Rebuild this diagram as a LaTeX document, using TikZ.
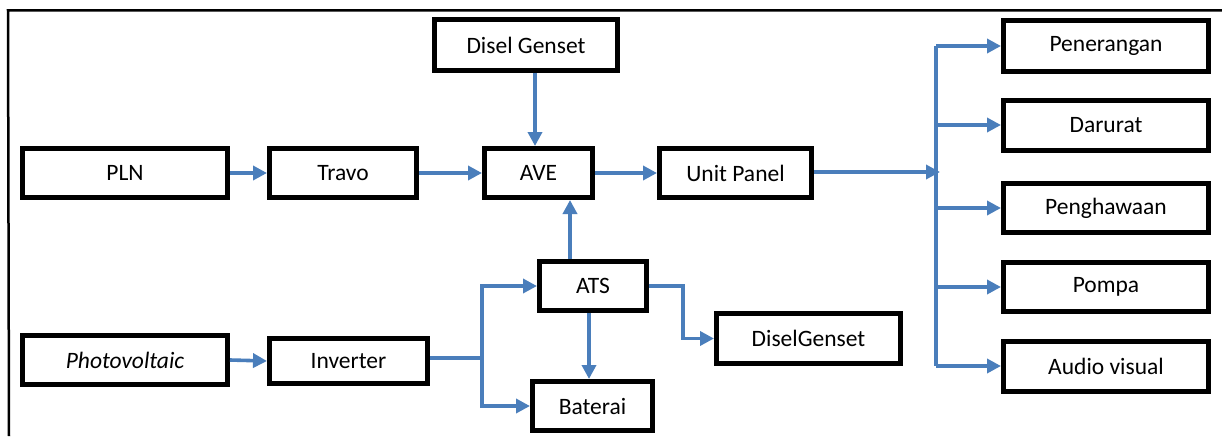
\documentclass[tikz,border=0pt]{standalone}
\usepackage{fontspec}
\setmainfont{Carlito}
\usetikzlibrary{arrows.meta,calc}
\definecolor{arrowblue}{RGB}{74,126,187}
\begin{document}
\begin{tikzpicture}[x=1pt,y=-1pt,
  box/.style={draw=black,line width=5pt,fill=white,rectangle,inner sep=0pt,
    font=\fontsize{23.5}{28}\selectfont},
  conn/.style={draw=arrowblue,line width=3.6pt},
  arr/.style={conn,-{Triangle[length=14pt,width=14pt]}},
  frameline/.style={draw=black,line width=2.5pt}]
\useasboundingbox (0,0) rectangle (1222,436);
% frame
\coordinate (ftr) at (1222,10.5);
\coordinate (ftl) at (8,10.5);
\coordinate (fbl) at (9,436);
\draw[frameline] (ftr) -- (ftl) -- (fbl);
% nodes
\node[box,minimum width=205pt,minimum height=49pt] (pln) at (125,173) {PLN};
\node[box,minimum width=147pt,minimum height=49pt] (travo) at (343,173) {Travo};
\node[box,minimum width=183pt,minimum height=51pt] (dg1) at (526,45) {Disel Genset};
\node[box,minimum width=108pt,minimum height=49pt] (ave) at (538.5,173) {AVE};
\node[box,minimum width=152pt,minimum height=49pt] (up) at (735.5,173) {Unit Panel};
\node[box,minimum width=205pt,minimum height=51pt] (pen) at (1106,46) {Penerangan};
\node[box,minimum width=205pt,minimum height=50pt] (dar) at (1106,125) {Darurat};
\node[box,minimum width=205pt,minimum height=49pt] (peng) at (1106,208) {Penghawaan};
\node[box,minimum width=205pt,minimum height=49pt] (pom) at (1106,287) {Pompa};
\node[box,minimum width=205pt,minimum height=50pt] (av) at (1106,366) {Audio visual};
\node[box,minimum width=205pt,minimum height=49pt] (pv) at (125,360) {\itshape Photovoltaic};
\node[box,minimum width=158pt,minimum height=45pt] (inv) at (348.5,361) {Inverter};
\node[box,minimum width=107pt,minimum height=49pt] (ats) at (593,286) {ATS};
\node[box,minimum width=120pt,minimum height=49pt] (bat) at (592.5,406) {Baterai};
\node[box,minimum width=184pt,minimum height=50pt] (dg2) at (808.5,338.5) {DiselGenset};
% helper coordinates
\coordinate (bus) at (936,172);
\coordinate (bustip) at (940,172);
\coordinate (split) at (482,358);
\coordinate (atsbend) at (683,289);
% arrows
\draw[arr] (pln.east) -- (travo.west);
\draw[arr] (travo.east) -- (ave.west);
\draw[arr] (dg1.south -| ave.north) ++(-3.5,0) coordinate (dgx) -- (dgx |- ave.north);
\draw[arr] (ave.east) -- (up.west);
\draw[arr] (up.east |- bustip) -- (bustip);
\draw[conn] (bus |- pen.west) -- (bus |- av.west);
\foreach \t in {pen,dar,peng,pom,av}
  \draw[arr] (bus |- \t.west) -- (\t.west);
\draw[arr] (pv.east) -- (inv.west);
\draw[arr] (ats.north -| 570,0) coordinate (atsx) -- (atsx |- ave.south);
\draw[arr] (ats.south -| 589,0) coordinate (atsy) -- (atsy |- bat.north);
\draw[conn] (inv.east |- split) -- (split);
\draw[arr] (split) |- (ats.west);
\draw[arr] (split) |- (bat.west);
\draw[arr] (ats.east) -| (atsbend |- dg2.west) -- (dg2.west);
\end{tikzpicture}
\end{document}
